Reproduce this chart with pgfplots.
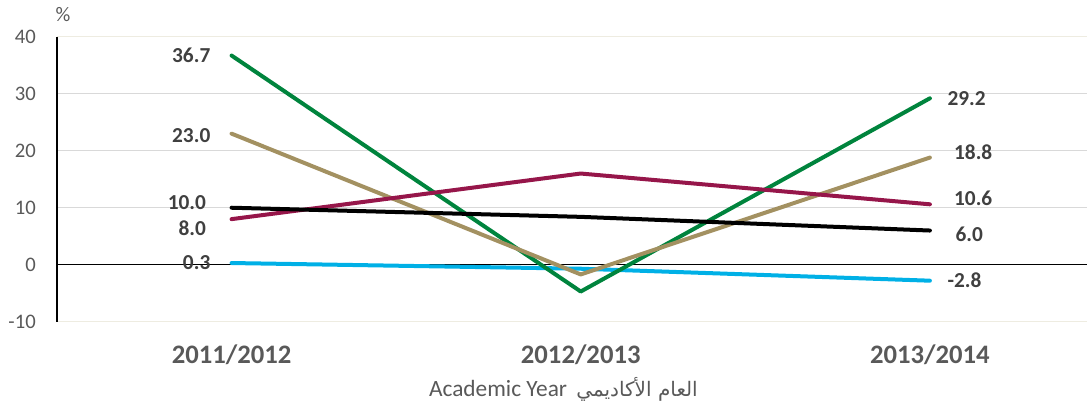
\documentclass[border=0pt]{standalone}
\usepackage{fontspec}
\setmainfont{Carlito}
\newfontfamily\arabicfont[Script=Arabic]{DejaVu Sans}
\TeXXeTstate=1
\usepackage{pgfplots}
\pgfplotsset{compat=1.18}
\definecolor{cgreen}{RGB}{0,132,61}
\definecolor{ctan}{RGB}{163,145,97}
\definecolor{cmaroon}{RGB}{150,22,74}
\definecolor{ccyan}{RGB}{0,176,230}
\definecolor{lblgray}{RGB}{64,64,64}
\definecolor{tickgray}{RGB}{89,89,89}
\definecolor{gridgray}{RGB}{217,217,217}
\definecolor{gridbeige}{RGB}{238,236,225}
\begin{document}
\begin{tikzpicture}
\path[use as bounding box] (-42.75pt,-63.2pt) rectangle (772.5pt,241.3pt);
\begin{axis}[
  at={(0,0)}, anchor=south west,
  scale only axis, width=772.5pt, height=213.75pt,
  xmin=-0.5, xmax=2.45, ymin=-10, ymax=40,
  clip=false,
  axis line style={draw=none},
  major tick length=0pt,
  xtick={0,1,2},
  xticklabels={2011/2012,2012/2013,2013/2014},
  xticklabel style={font=\fontsize{20}{24}\selectfont\bfseries, text=tickgray, anchor=base, inner sep=0pt, yshift=-31pt},
  ytick={-10,0,10,20,30,40},
  yticklabel style={font=\fontsize{15.5}{18}\selectfont, text=tickgray, anchor=east, inner sep=0pt, xshift=-15.75pt},
  /pgf/number format/assume math mode=true,
  ymajorgrids,
  grid style={color=gridbeige, line width=1pt},
  extra y ticks={10,20,30},
  extra y tick labels={},
  extra y tick style={grid style={color=gridgray, line width=1pt}},
  xlabel={Academic Year\hspace{7pt}{\arabicfont\fontsize{15}{18}\selectfont\beginR العام الأكاديمي\endR}},
  xlabel style={at={(axis description cs:0.5,0)}, anchor=base, inner sep=0pt, yshift=-55.7pt, xshift=-6.4pt, font=\fontsize{17.5}{21}\selectfont, text=tickgray},
  every axis plot/.append style={line width=3pt, line cap=round, line join=round, mark=none},
]
\draw[black, line width=0.9pt] (axis cs:-0.5,0) -- (axis cs:2.45,0);
\draw[black, line width=1.1pt] (axis cs:-0.5,-10) -- (axis cs:-0.5,40);
\addplot[ccyan] coordinates {(0,0.3) (1,-0.7) (2,-2.8)};
\addplot[cgreen] coordinates {(0,36.7) (1,-4.7) (2,29.2)};
\addplot[ctan] coordinates {(0,23.0) (1,-1.7) (2,18.8)};
\addplot[cmaroon] coordinates {(0,8.0) (1,16.0) (2,10.6)};
\addplot[black] coordinates {(0,10.0) (1,8.4) (2,6.0)};
\begin{scope}[every node/.style={font=\fontsize{16}{19}\selectfont\bfseries, text=lblgray, inner sep=0pt}]
\node[anchor=east] at ([xshift=-15.75pt]axis cs:0,36.7) {36.7};
\node[anchor=east] at ([xshift=-15.75pt,yshift=-1.5pt]axis cs:0,23.0) {23.0};
\node[anchor=east] at ([xshift=-19pt,yshift=4pt]axis cs:0,10.0) {10.0};
\node[anchor=east] at ([xshift=-19pt,yshift=-6.5pt]axis cs:0,8.0) {8.0};
\node[anchor=east] at ([xshift=-15.75pt]axis cs:0,0.3) {0.3};
\node[anchor=west] at ([xshift=13pt]axis cs:2,29.2) {29.2};
\node[anchor=west] at ([xshift=18pt,yshift=4pt]axis cs:2,18.8) {18.8};
\node[anchor=west] at ([xshift=18pt,yshift=4.5pt]axis cs:2,10.6) {10.6};
\node[anchor=west] at ([xshift=19pt,yshift=-2.5pt]axis cs:2,6.0) {6.0};
\node[anchor=west] at ([xshift=13pt]axis cs:2,-2.8) {-2.8};
\end{scope}
\node[font=\fontsize{15.5}{18}\selectfont, text=tickgray, anchor=center] at ([xshift=4.5pt,yshift=16.3pt]axis cs:-0.5,40) {\%};
\end{axis}
\end{tikzpicture}
\end{document}
